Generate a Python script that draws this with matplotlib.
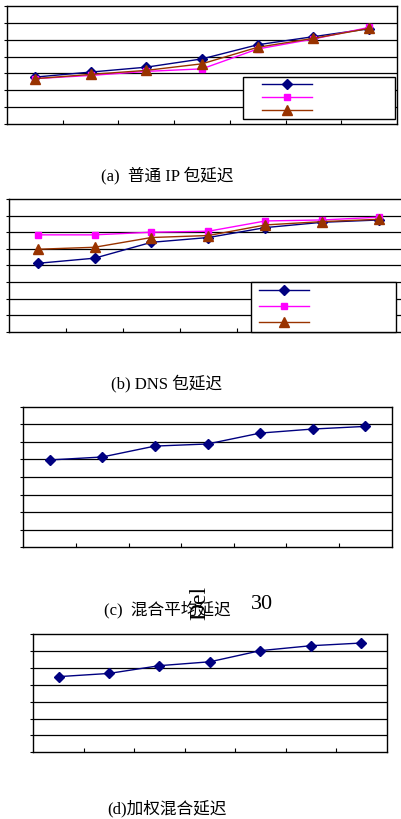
import matplotlib.pyplot as plt
from matplotlib.lines import Line2D

plt.rcParams['font.family'] = ['Liberation Serif', 'Noto Sans CJK SC', 'DejaVu Sans']

points = [1, 2, 3, 4, 5, 6, 7]

# (a) ordinary IP packet delay
ip_blue = [2.78, 3.08, 3.37, 3.86, 4.70, 5.18, 5.65]
ip_pink = [2.69, 2.88, 3.12, 3.27, 4.45, 5.04, 5.73]
ip_brown = [2.69, 2.94, 3.18, 3.57, 4.55, 5.08, 5.67]

# (b) DNS packet delay
dns_blue = [4.13, 4.44, 5.40, 5.69, 6.29, 6.61, 6.75]
dns_pink = [5.85, 5.85, 6.01, 6.07, 6.69, 6.75, 6.92]
dns_brown = [4.98, 5.10, 5.69, 5.81, 6.45, 6.65, 6.79]

# (c) mixed average delay, (d) weighted mixed delay
avg_delay = [4.97, 5.14, 5.76, 5.88, 6.50, 6.73, 6.88]
weighted_delay = [4.48, 4.67, 5.13, 5.36, 6.02, 6.31, 6.47]

captions = ['(a)  普通 IP 包延迟', '(b) DNS 包延迟', '(c)  混合平均延迟', '(d)加权混合延迟']

NAVY = '#000080'
PINK = '#ff00ff'
BROWN = '#993300'

fig = plt.figure(figsize=(4.02, 8.19), dpi=100)

ax_a = fig.add_axes([0.0174, 0.8486, 0.970, 0.1441])
ax_b = fig.add_axes([0.0224, 0.595, 0.9925, 0.1617])
ax_c = fig.add_axes([0.058, 0.3317, 0.9164, 0.1717])
ax_d = fig.add_axes([0.0828, 0.0814, 0.879, 0.1444])


def style(ax, ymax):
    ax.set_xlim(0.5, 7.5)
    ax.set_ylim(0, ymax)
    ax.set_xticks([1.5, 2.5, 3.5, 4.5, 5.5, 6.5])
    ax.set_yticks(range(ymax + 1))
    ax.set_xticklabels([])
    ax.set_yticklabels([])
    ax.tick_params(axis='x', direction='in', length=3, width=0.8)
    ax.tick_params(axis='y', direction='out', length=2, width=0.8)
    for y in range(1, ymax):
        ax.axhline(y, color='black', lw=0.9, zorder=1)
    for s in ax.spines.values():
        s.set_linewidth(1.0)
        s.set_color('black')


def draw_legend(ax, handles, box, textpad, spacing, pad):
    # labels were lost in the scan, so only the line samples are drawn
    leg = ax.legend(handles=handles, labels=['', '', ''], loc='lower left',
                    bbox_to_anchor=box, mode='expand', frameon=True,
                    fancybox=False, edgecolor='black', framealpha=1,
                    markerfirst=False, handlelength=4.5,
                    handletextpad=textpad, borderpad=pad,
                    labelspacing=spacing, fontsize=8, borderaxespad=0)
    leg.get_frame().set_linewidth(1.0)


def mk(color, marker, ms):
    return Line2D([], [], color=color, marker=marker, ms=ms, lw=1.0,
                  markeredgecolor=color)


# (a)
style(ax_a, 7)
ax_a.plot(points, ip_blue, color=NAVY, marker='D', ms=5.5, lw=1.0, zorder=3)
ax_a.plot(points, ip_pink, color=PINK, marker='s', ms=5, lw=1.0, zorder=3)
ax_a.plot(points, ip_brown, color=BROWN, marker='^', ms=6.5, lw=1.0, zorder=4)
draw_legend(ax_a, [mk(NAVY, 'D', 5.5), mk(PINK, 's', 5), mk(BROWN, '^', 6.5)],
            (0.605, 0.042, 0.39, 0.348), 1.5, 0.3, 0.25)

# (b)
style(ax_b, 8)
ax_b.plot(points, dns_blue, color=NAVY, marker='D', ms=5.5, lw=1.0, zorder=3)
ax_b.plot(points, dns_pink, color=PINK, marker='s', ms=5, lw=1.0, zorder=3)
ax_b.plot(points, dns_brown, color=BROWN, marker='^', ms=6.5, lw=1.0, zorder=4)
draw_legend(ax_b, [mk(NAVY, 'D', 5.5), mk(PINK, 's', 5), mk(BROWN, '^', 6.5)],
            (0.606, 0.0, 0.363, 0.367), 0.4, 0.6, 0.3)

# (c)
style(ax_c, 8)
ax_c.plot(points, avg_delay, color=NAVY, marker='D', ms=5.5, lw=1.0, zorder=3)

# (d)
style(ax_d, 7)
ax_d.plot(points, weighted_delay, color=NAVY, marker='D', ms=5.5, lw=1.0, zorder=3)

# captions
fig.text(0.415, 0.7863, captions[0], ha='center', va='center', fontsize=12)
fig.text(0.415, 0.5324, captions[1], ha='center', va='center', fontsize=12)
fig.text(0.415, 0.2564, captions[2], ha='center', va='center', fontsize=12)
fig.text(0.415, 0.0122, captions[3], ha='center', va='center', fontsize=12)

# stray text fragments left in the scan
fig.text(0.652, 0.2613, '30', ha='center', va='center', fontsize=16)
fig.text(0.4975, 0.2637, 'Del', ha='center', va='center', fontsize=17,
         rotation=90)

fig.savefig('out.png', dpi=100)
